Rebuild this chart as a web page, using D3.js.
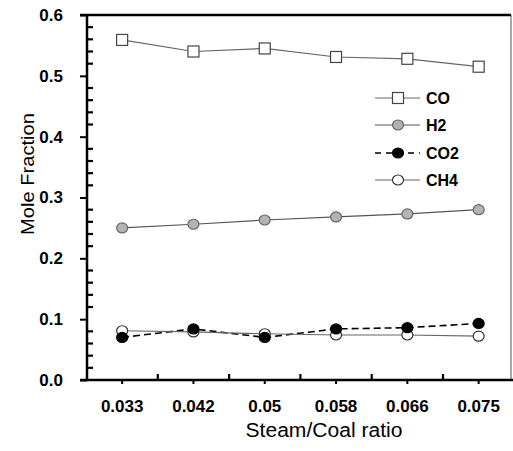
<!DOCTYPE html>
<html>
<head>
<meta charset="utf-8">
<script src="https://cdn.jsdelivr.net/npm/d3@7"></script>
<style>
  body{margin:0;background:#fff;}
  svg{display:block;font-family:"Liberation Sans",Arial,sans-serif;}
</style>
</head>
<body>
<script>
// data
var ratios = ['0.033','0.042','0.05','0.058','0.066','0.075'];
var coVals  = [0.559,0.540,0.545,0.531,0.528,0.515];
var h2Vals  = [0.250,0.256,0.263,0.268,0.273,0.280];
var co2Vals = [0.070,0.084,0.070,0.084,0.086,0.093];
var ch4Vals = [0.081,0.079,0.076,0.074,0.074,0.072];
var yTicks  = [0,0.1,0.2,0.3,0.4,0.5,0.6];
var yMinor  = [0.02,0.04,0.06,0.08,0.12,0.14,0.16,0.18,0.22,0.24,0.26,0.28,
               0.32,0.34,0.36,0.38,0.42,0.44,0.46,0.48,0.52,0.54,0.56,0.58];

var W = 513, H = 451;
var svg = d3.select('body').append('svg').attr('width',W).attr('height',H);

// scales
var x = d3.scaleBand().domain(ratios).range([86.5,514.3]);
var xc = function(d){ return x(d)+x.bandwidth()/2; };
var y = d3.scaleLinear().domain([0,0.6]).range([380,15]);

// right border (thin)
svg.append('line').attr('x1',511).attr('x2',511).attr('y1',y(0.6)).attr('y2',y(0))
  .style('stroke','#555').style('stroke-width',1);

// y axis, majors outside, minors inside
var yAxis = d3.axisLeft(y).tickValues(yTicks).tickSize(7)
  .tickFormat(d3.format('.1f'));
var yg = svg.append('g').attr('transform','translate(87,0)').call(yAxis);
yg.select('.domain').remove();
yg.selectAll('.tick line').style('stroke','#000').style('stroke-width',2);
yg.selectAll('.tick text').style('font-size','17px').style('font-weight','bold')
  .style('fill','#000').attr('x',-24);
svg.selectAll('line.yminor').data(yMinor).enter().append('line').attr('class','yminor')
  .attr('x1',87).attr('x2',93)
  .attr('y1',function(d){return y(d);}).attr('y2',function(d){return y(d);})
  .style('stroke','#000').style('stroke-width',2.2);
svg.append('line').attr('x1',87).attr('x2',87).attr('y1',y(0.6)-1).attr('y2',y(0)+1)
  .style('stroke','#000').style('stroke-width',2.5);

// top line at 0.6
svg.append('line').attr('x1',80).attr('x2',511).attr('y1',y(0.6)).attr('y2',y(0.6))
  .style('stroke','#000').style('stroke-width',2.5);

// x axis
var xAxis = d3.axisBottom(x).tickSize(4).tickPadding(16);
var xg = svg.append('g').attr('transform','translate(0,380)').call(xAxis);
xg.select('.domain').remove();
xg.selectAll('.tick line').style('stroke','#000').style('stroke-width',2);
xg.selectAll('.tick text').style('font-size','17px').style('font-weight','bold').style('fill','#000');
var xBounds = ratios.slice(1).map(function(d){ return x(d); });
svg.selectAll('line.xminor').data(xBounds).enter().append('line').attr('class','xminor')
  .attr('x1',function(d){return d;}).attr('x2',function(d){return d;})
  .attr('y1',380).attr('y2',374).style('stroke','#000').style('stroke-width',2.2);
svg.append('line').attr('x1',80).attr('x2',513).attr('y1',380).attr('y2',380)
  .style('stroke','#000').style('stroke-width',2.5);

// axis titles
svg.append('text').attr('x',324).attr('y',437).attr('text-anchor','middle')
  .attr('textLength',157).attr('lengthAdjust','spacingAndGlyphs')
  .style('font-size','20px').text('Steam/Coal ratio');
svg.append('text').attr('transform','translate(34,174) rotate(-90)').attr('text-anchor','middle')
  .attr('textLength',122).attr('lengthAdjust','spacingAndGlyphs')
  .style('font-size','19px').text('Mole Fraction');

// series
var series = [
  {name:'CO', vals:coVals, shape:'square', fill:'#fff', stroke:'#444', line:'#666', dash:null, lw:1.2},
  {name:'H2', vals:h2Vals, shape:'circle', fill:'#b3b3b3', stroke:'#666', line:'#555', dash:null, lw:1.2},
  {name:'CO2', vals:co2Vals, shape:'circle', fill:'#000', stroke:'#000', line:'#000', dash:'7,4', lw:1.6},
  {name:'CH4', vals:ch4Vals, shape:'circle', fill:'#fff', stroke:'#333', line:'#666', dash:null, lw:1.2}
];

var line = d3.line().x(function(d,i){ return xc(ratios[i]); }).y(function(d){ return y(d); });

function marker(g,s,cx,cy){
  if(s.shape=='square'){
    g.append('rect').attr('x',cx-5.5).attr('y',cy-5.5).attr('width',11).attr('height',11)
      .attr('fill',s.fill).style('stroke',s.stroke).style('stroke-width',1.2);
  }else{
    g.append('ellipse').attr('cx',cx).attr('cy',cy).attr('rx',5.5).attr('ry',5)
      .attr('fill',s.fill).style('stroke',s.stroke).style('stroke-width',1.2);
  }
}

series.forEach(function(s){
  var p = svg.append('path').datum(s.vals).attr('d',line).attr('fill','none')
    .style('stroke',s.line).style('stroke-width',s.lw);
  if(s.dash) p.style('stroke-dasharray',s.dash);
});
// markers on top of the lines
[series[3],series[2],series[1],series[0]].forEach(function(s){
  var g = svg.append('g');
  s.vals.forEach(function(v,i){ marker(g,s,xc(ratios[i]),y(v)); });
});

// legend
var legY = [98,125,153,180];
series.forEach(function(s,i){
  var g = svg.append('g');
  g.append('line').attr('x1',375).attr('x2',420).attr('y1',legY[i]).attr('y2',legY[i])
    .style('stroke',s.line).style('stroke-width',s.lw)
    .style('stroke-dasharray',s.dash ? '6,5' : null);
  marker(g,s,398,legY[i]);
  g.append('text').attr('x',426).attr('y',legY[i]).attr('dy','0.36em')
    .style('font-size','16px').style('font-weight','bold').text(s.name);
});
</script>
</body>
</html>
